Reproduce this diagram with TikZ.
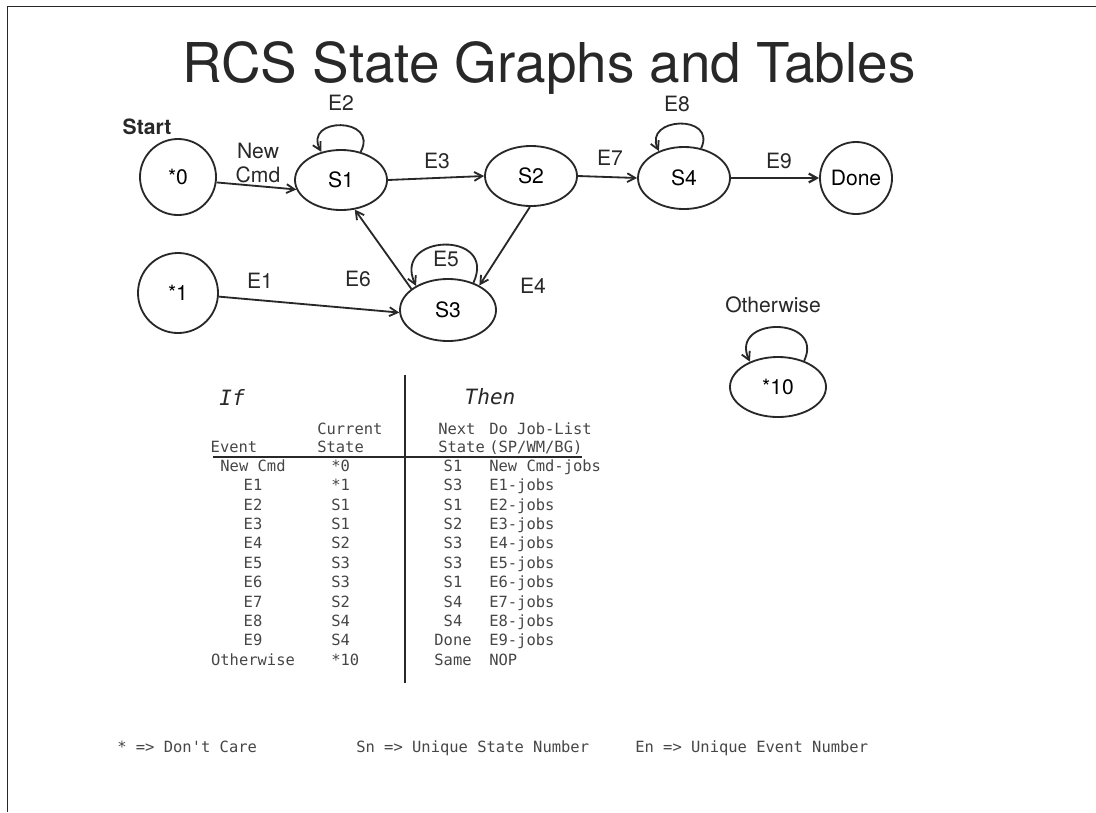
\documentclass[tikz,border=0pt]{standalone}
\usepackage{fontspec}
\setmainfont{TeX Gyre Heros}
\newfontfamily\monofont{DejaVu Sans Mono}
\usetikzlibrary{arrows.meta,positioning,shapes.geometric}
\definecolor{inkgray}{RGB}{40,40,40}
\definecolor{tabgray}{RGB}{70,70,70}
\newcommand{\graphfont}{\fontsize{15}{17}\selectfont}
\newcommand{\tabfont}{\monofont\fontsize{11}{13}\selectfont}

\begin{document}
\begin{tikzpicture}[x=0.025cm,y=-0.025cm,
  state/.style={draw=inkgray,line width=1.3pt,ellipse,minimum width=2.3cm,minimum height=1.5cm,inner sep=0pt,font=\graphfont},
  circ/.style={draw=inkgray,line width=1.3pt,circle,minimum size=1.9cm,inner sep=0pt,font=\graphfont},
  lbl/.style={font=\graphfont,text=inkgray,align=center},
  arr/.style={-{Straight Barb[length=2mm,width=2.2mm]},line width=1.3pt,draw=inkgray},
  cell/.style={font=\tabfont,text=tabgray,inner sep=0pt,text height=1.6ex,text depth=0.4ex}]
  \useasboundingbox (0,0) rectangle (1096,812);
  \draw[inkgray,line width=0.6pt] (7,812) -- (7,6) -- (1096,6);
  \node[font=\fontsize{39}{41}\selectfont,text=inkgray,anchor=base,inner sep=0pt,text depth=0pt] (title) at (549,82) {RCS State Graphs and Tables};

  % states
  \node[circ] (z0) at (178,177) {*0};
  \node[state] (s1) at (341,180) {S1};
  \node[state] (s2) at (531,176) {S2};
  \node[state,minimum height=1.55cm] (s4) at (684,178) {S4};
  \node[circ,minimum size=1.8cm] (done) at (856,178) {Done};
  \node[circ,minimum size=2cm] (z1) at (178,293) {*1};
  \node[state,minimum width=2.4cm,minimum height=1.55cm] (s3) at (448,310) {S3};
  \node[state,minimum width=2.4cm] (z10) at (778,387) {*10};

  % labels
  \node[lbl,font=\graphfont\bfseries] (start) at (147,127) {Start};
  \node[lbl,inner sep=0pt] (newcmd) at (258,163) {New\\Cmd};
  \node[lbl] (e2) at (341,103) {E2};
  \node[lbl] (e3) at (437,161) {E3};
  \node[lbl] (e7) at (610,158) {E7};
  \node[lbl] (e8) at (677,104) {E8};
  \node[lbl] (e9) at (779,161) {E9};
  \node[lbl] (e1) at (260,281) {E1};
  \node[lbl] (e5) at (446,259) {E5};
  \node[lbl] (e6) at (358,279) {E6};
  \node[lbl] (e4) at (533,286) {E4};
  \node[lbl] (other) at (773,305) {Otherwise};

  % transitions
  \draw[arr] (z0.-8) -- (s1.192);
  \draw[arr] (s1.east) -- (s2.west);
  \draw[arr] (s2.east) -- (s4.west);
  \draw[arr,line width=1.6pt] (s4.east) -- (done.west);
  \draw[arr] (z1) -- (s3.183);
  \draw[arr] (s3.150) -- (s1.-65);
  \draw[arr] (s2.-92) -- (s3.38);
  \draw[arr] (s1.55) .. controls +(-62:40) and +(-118:40) .. (s1.125);
  \draw[arr] (s3.47) .. controls +(-65:58) and +(-115:58) .. (s3.143);
  \draw[arr] (s4.60) .. controls +(-65:38) and +(-115:38) .. (s4.133);
  \draw[arr] (z10.45) .. controls +(-65:50) and +(-115:50) .. (z10.138);

  % table
  \node[font=\monofont\itshape\fontsize{15}{17}\selectfont,text=inkgray] (ifhd) at (232,397) {If};
  \node[font=\monofont\itshape\fontsize{15}{17}\selectfont,text=inkgray] (thenhd) at (490,397) {Then};
  \node[cell] (hev) at (234,448) {Event};
  \node[cell,anchor=west] (hcs1) at (317,430) {Current};
  \node[cell,anchor=west] (hcs2) at (317,448) {State};
  \node[cell,anchor=west] (hns1) at (438,430) {Next};
  \node[cell,anchor=west] (hns2) at (438,448) {State};
  \node[cell,anchor=west] (hjob1) at (489,430) {Do Job-List};
  \node[cell,anchor=west] (hjob2) at (489,448) {(SP/WM/BG)};
  \draw[inkgray,line width=1.1pt] (213,457) coordinate (rulel) -- (582,457) coordinate (ruler);
  \draw[inkgray,line width=1.6pt] (405,375) coordinate (bart) -- (405,683) coordinate (barb);
  \foreach \ev/\cs/\ns/\job [count=\i] in {New Cmd/*0/S1/New Cmd-jobs, E1/*1/S3/E1-jobs,
      E2/S1/S1/E2-jobs, E3/S1/S2/E3-jobs, E4/S2/S3/E4-jobs, E5/S3/S3/E5-jobs,
      E6/S3/S1/E6-jobs, E7/S2/S4/E7-jobs, E8/S4/S4/E8-jobs, E9/S4/Done/E9-jobs,
      Otherwise/*10/Same/NOP} {
    \node[cell] (ev\i) at (253,{447.5+19.4*\i}) {\ev};
    \node[cell,anchor=west] (cs\i) at (331,{447.5+19.4*\i}) {\cs};
    \node[cell] (ns\i) at (453,{447.5+19.4*\i}) {\ns};
    \node[cell,anchor=west] (job\i) at (489,{447.5+19.4*\i}) {\job};
  }

  % legend
  \node[cell,anchor=west] (keya) at (117,748) {* => Don't Care};
  \node[cell,anchor=west] (keyb) at (356,748) {Sn => Unique State Number};
  \node[cell,anchor=west] (keyc) at (635,748) {En => Unique Event Number};
\end{tikzpicture}
\end{document}
